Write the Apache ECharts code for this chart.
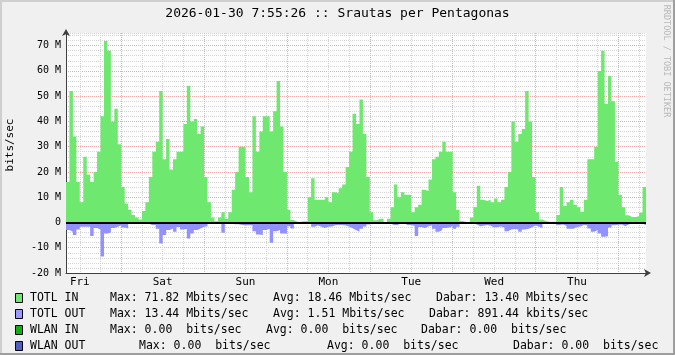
<!DOCTYPE html>
<html>
<head>
<meta charset="utf-8">
<script src="https://cdn.jsdelivr.net/npm/echarts@6/dist/echarts.min.js"></script>
<style>
  html, body { margin: 0; padding: 0; background: #f0f0f0; }
  #chart { width: 675px; height: 355px; }
</style>
</head>
<body>
<div id="chart"></div>
<script>
// one week, hourly slots, first slot = Fri 08:00
var dayNames = ['Fri', 'Sat', 'Sun', 'Mon', 'Tue', 'Wed', 'Thu', 'Fri'];
var startHour = 8;

// TOTL IN, Mbit/s per hour
var totlIn = [
    16, 52, 34, 16, 8, 26, 19, 16, 20, 28, 42, 71.8, 68, 40, 45, 31, 14, 7.5, 5, 3, 2, 1.2, 4.5, 8,
    18, 28, 32, 52, 25, 33, 21, 25, 28, 28, 39, 54, 40, 41, 35, 38, 18, 8, 2, 0.5, 2, 4, 1.5, 4,
    13, 20, 30, 30, 18, 12, 42, 28, 36, 42, 42, 36, 44, 56, 38, 20, 5, 1, 0.3, 0.3, 0.5, 0.5, 10, 17.5,
    9, 9, 9, 10, 8, 12, 11.5, 13.5, 15, 22, 28, 43, 39, 48.7, 35, 18, 4, 0.9, 1.5, 1.5, 0.2, 1.5, 6, 15,
    10, 12, 11, 11, 4, 6, 7, 13, 12.5, 17, 25, 26, 28, 32, 28, 28, 12, 5, 0.6, 0.2, 0.2, 2, 6, 14.5,
    9, 8.5, 9, 8, 9.5, 8, 9, 14, 20, 40, 32, 35, 37, 52, 40, 18, 4, 1.2, 0.6, 0.3, 0.3, 0.3, 3, 14,
    6.5, 8, 9, 7, 6, 4.2, 9, 25, 25, 30, 60, 68, 47, 58, 48, 24, 11, 6, 2.9, 2.2, 2.2, 2.5, 3.8, 14
];

// TOTL OUT, Mbit/s per hour (drawn below zero)
var totlOut = [
    -3, -3.7, -5, -2.8, -1.7, -1.7, -1.7, -5.4, -2.2, -2.8, -13.44, -4.4, -4, -2.2, -1.7, -1.2, -2, -2.4, -0.4, -0.4, -0.4, -0.4, -0.4, -0.5,
    -1, -1, -2.5, -8.3, -5, -3, -2.4, -3.7, -1.8, -2.8, -2.6, -6.3, -4.4, -3, -2.4, -1.7, -1.5, -0.4, -0.4, -0.4, -0.4, -4.1, -0.4, -0.5,
    -0.7, -0.7, -1, -1.1, -1.1, -1.1, -3.5, -4.8, -5, -3, -2.5, -8, -3.5, -3, -4.4, -4.5, -1.5, -2.4, -0.2, -0.2, -0.1, -0.2, -0.4, -1.7,
    -1.2, -1.7, -2.2, -1.7, -1.6, -1.1, -1, -1, -1.2, -1.6, -2.3, -3, -3.7, -2.5, -1.6, -0.8, -0.2, -0.1, -0.1, -0.1, -0.3, -0.4, -1, -1,
    -0.4, -0.4, -1, -1, -1.4, -5.4, -1.8, -2.2, -1.5, -1.2, -2.5, -3.7, -3, -2.2, -2, -1.5, -2.5, -1.7, -0.2, -0.2, -0.3, -0.4, -0.8, -1.5,
    -1.3, -1, -1.3, -2, -1.8, -1.6, -2, -3.5, -2.8, -2.6, -2.8, -3.7, -2.8, -2.5, -1.9, -1.2, -1.7, -2.2, -0.2, -0.1, -0.1, -0.2, -1, -0.8,
    -1.4, -2.5, -2.5, -1.8, -1.6, -1, -1.2, -2.4, -3.7, -3, -4.4, -5.7, -5.5, -2, -1.1, -0.9, -0.8, -1.5, -0.8, -0.4, -0.4, -0.4, -0.5, -1
];

var legendRows = [
    {name: 'TOTL IN',  color: '#6fe86f', max: 'Max: 71.82 Mbits/sec', avg: 'Avg: 18.46 Mbits/sec', now: 'Dabar: 13.40 Mbits/sec', x: [110, 273, 436]},
    {name: 'TOTL OUT', color: '#9999ff', max: 'Max: 13.44 Mbits/sec', avg: 'Avg: 1.51 Mbits/sec',  now: 'Dabar: 891.44 kbits/sec', x: [110, 273, 429]},
    {name: 'WLAN IN',  color: '#10b010', max: 'Max: 0.00  bits/sec',  avg: 'Avg: 0.00  bits/sec',  now: 'Dabar: 0.00  bits/sec', x: [110, 266, 421]},
    {name: 'WLAN OUT', color: '#5060c0', max: 'Max: 0.00  bits/sec',  avg: 'Avg: 0.00  bits/sec',  now: 'Dabar: 0.00  bits/sec', x: [139, 327, 513]}
];

var mono = 'DejaVu Sans Mono';

// slot labels, one more than the data so the last step reaches the right edge
var slots = [];
for (var i = 0; i <= totlIn.length; i++) {
    var h = startHour + i;
    var hh = h % 24;
    slots.push(dayNames[Math.floor(h / 24)] + ' ' + (hh < 10 ? '0' : '') + hh + ':00');
}
var inData = totlIn.concat([totlIn[totlIn.length - 1]]);
var outData = totlOut.concat([totlOut[totlOut.length - 1]]);

function hourOf(val) {
    return parseInt(val.slice(4, 6), 10);
}

var graphics = [
    {type: 'text', left: 'center', top: 7, style: {text: '2026-01-30 7:55:26 :: Srautas per Pentagonas', font: '13px ' + mono, fill: '#000'}},
    {type: 'text', x: 10, y: 145, rotation: Math.PI / 2, style: {text: 'bits/sec', font: '11px ' + mono, fill: '#000', align: 'center', verticalAlign: 'middle'}},
    {type: 'text', x: 666, y: 61, rotation: -Math.PI / 2, style: {text: 'RRDTOOL / TOBI OETIKER', font: '8.5px ' + mono, fill: '#b8b8b8', align: 'center', verticalAlign: 'middle'}},
    // frame shading
    {type: 'rect', shape: {x: 0, y: 0, width: 675, height: 2}, style: {fill: '#cfcfcf'}},
    {type: 'rect', shape: {x: 0, y: 0, width: 2, height: 355}, style: {fill: '#cfcfcf'}},
    {type: 'rect', shape: {x: 673, y: 0, width: 2, height: 355}, style: {fill: '#9e9e9e'}},
    {type: 'rect', shape: {x: 0, y: 353, width: 675, height: 2}, style: {fill: '#9e9e9e'}}
];

legendRows.forEach(function (row, k) {
    var y = 298 + k * 16;
    graphics.push({type: 'rect', shape: {x: 15.5, y: y - 4.5, width: 7, height: 9}, style: {fill: row.color, stroke: '#000', lineWidth: 1}});
    graphics.push({type: 'text', x: 30, y: y, style: {text: row.name, font: '11.5px ' + mono, fill: '#000', verticalAlign: 'middle'}});
    [row.max, row.avg, row.now].forEach(function (t, j) {
        graphics.push({type: 'text', x: row.x[j], y: y, style: {text: t, font: '11.5px ' + mono, fill: '#000', verticalAlign: 'middle'}});
    });
});

var chart = echarts.init(document.getElementById('chart'), null, {renderer: 'canvas'});

var option = {
    animation: false,
    backgroundColor: '#f0f0f0',
    grid: {left: 66, top: 33, width: 580, height: 240, backgroundColor: '#ffffff', show: true, borderWidth: 0},
    xAxis: {
        type: 'category',
        data: slots,
        boundaryGap: false,
        axisLine: {
            onZero: false,
            lineStyle: {color: '#404040', width: 1},
            symbol: ['none', 'arrow'],
            symbolSize: [6, 7],
            symbolOffset: [0, 5]
        },
        axisTick: {show: false},
        axisLabel: {
            interval: function (idx, val) { return hourOf(val) === 12; },
            formatter: function (val) { return val.slice(0, 3); },
            fontFamily: mono,
            fontSize: 11,
            color: '#000',
            margin: 4
        },
        splitLine: {
            show: true,
            interval: function (idx, val) { return hourOf(val) % 6 === 0 && idx > 0; },
            lineStyle: {color: ['#d4d4d4', '#d4d4d4', '#f0a8a8', '#d4d4d4'], type: [1, 1], width: 1}
        }
    },
    yAxis: {
        type: 'value',
        min: -20,
        max: 75,
        interval: 2,
        axisLine: {
            show: true,
            lineStyle: {color: '#404040', width: 1},
            symbol: ['none', 'arrow'],
            symbolSize: [6, 7],
            symbolOffset: [0, 4]
        },
        axisTick: {show: false},
        axisLabel: {
            formatter: function (v) {
                if (v % 10 !== 0) return '';
                return v === 0 ? '0' : v + ' M';
            },
            fontFamily: mono,
            fontSize: 10,
            color: '#000',
            margin: 5
        },
        splitLine: {
            show: true,
            lineStyle: {color: ['#f0a8a8', '#d4d4d4', '#d4d4d4', '#d4d4d4', '#d4d4d4'], type: [1, 1], width: 1}
        }
    },
    series: [
        {
            name: 'TOTL IN',
            type: 'line',
            step: 'end',
            data: inData,
            showSymbol: false,
            lineStyle: {width: 0},
            itemStyle: {color: '#6fe86f'},
            areaStyle: {color: '#6fe86f', opacity: 1}
        },
        {
            name: 'TOTL OUT',
            type: 'line',
            step: 'end',
            data: outData,
            showSymbol: false,
            lineStyle: {width: 0},
            itemStyle: {color: '#9191ff'},
            areaStyle: {color: '#9191ff', opacity: 1},
            markLine: {
                silent: true,
                symbol: 'none',
                label: {show: false},
                lineStyle: {color: '#000', width: 2, type: 'solid'},
                data: [{yAxis: 0}]
            }
        }
    ],
    graphic: graphics
};

chart.setOption(option);
</script>
</body>
</html>
